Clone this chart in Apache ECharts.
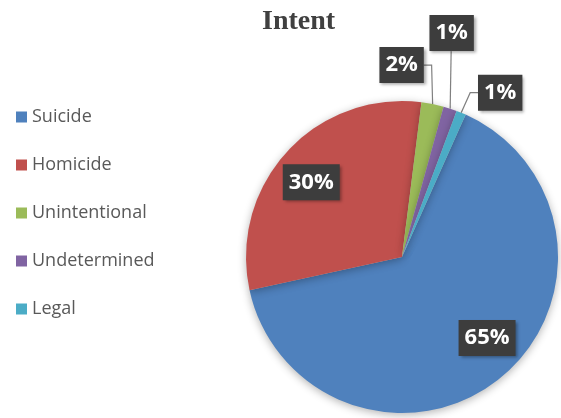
<!DOCTYPE html>
<html><head><meta charset="utf-8">
<script src="https://cdn.jsdelivr.net/npm/echarts@6/dist/echarts.min.js"></script>
<style>html,body{margin:0;padding:0;background:#fff}#c{width:561px;height:418px}</style>
</head><body><div id="c"></div>
<script>
const titleText = 'Intent';
const categories = ['Suicide', 'Homicide', 'Unintentional', 'Undetermined', 'Legal'];
const values = [64.9, 30.4, 2.3, 1.4, 1.0];
const colors = ['#4F81BD', '#C0504D', '#9BBB59', '#8064A2', '#4BACC6'];
const insideLabels = [true, true, false, false, false];

const chart = echarts.init(document.getElementById('c'), null, {renderer: 'canvas'});

const HW = 22, HH = 18; // half size of small label boxes
function layoutLabel(p) {
  const i = p.dataIndex;
  if (i === 0) return {dx: 34, dy: 18};
  if (i === 1) return {dx: -31, dy: -20};
  const pts = p.labelLinePoints;
  if (!pts) return {};
  const p0 = pts[0];
  let lx, ly, line;
  if (i === 2) {
    lx = p0[0] - 31; ly = p0[1] - 39;
    line = [p0, [p0[0] - 1, ly], [lx + HW, ly]];
  } else if (i === 3) {
    lx = p0[0] + 1.5; ly = p0[1] - 75.5;
    line = [p0, [p0[0] + 1, ly + HH], [p0[0] + 1, ly + HH]];
  } else {
    lx = p0[0] + 39; ly = p0[1] - 20;
    line = [p0, [p0[0] + 9, ly], [lx - HW, ly]];
  }
  return {x: lx, y: ly, align: 'center', verticalAlign: 'middle', labelLinePoints: line};
}

const data = categories.map((n, i) => ({
  name: n,
  value: values[i],
  itemStyle: {color: colors[i]},
  label: {position: insideLabels[i] ? 'inside' : 'outside'},
  labelLine: {show: !insideLabels[i]}
}));

chart.setOption({
  animation: false,
  title: {
    text: titleText,
    left: 257, top: 3,
    textStyle: {fontFamily: 'Liberation Serif', fontWeight: 'bold', fontSize: 28, color: '#404040'}
  },
  legend: {
    orient: 'vertical',
    left: 11, top: 102,
    icon: 'rect',
    itemWidth: 11, itemHeight: 11,
    itemGap: 28,
    data: categories,
    textStyle: {fontFamily: 'Open Sans', fontSize: 18, color: '#595959', lineHeight: 20}
  },
  series: [{
    type: 'pie',
    center: [402, 257],
    radius: 156,
    startAngle: 65.9,
    clockwise: true,
    avoidLabelOverlap: false,
    minShowLabelAngle: 0,
    silent: true,
    itemStyle: {shadowBlur: 8, shadowColor: 'rgba(0,0,0,0.3)', shadowOffsetY: 2},
    label: {
      formatter: p => Math.round(p.percent) + '%',
      color: '#fff',
      fontFamily: 'Open Sans',
      fontWeight: 'bold',
      fontSize: 22,
      lineHeight: 23,
      backgroundColor: '#3d3d3d',
      padding: [7, 6, 6, 6],
      shadowBlur: 3,
      shadowOffsetX: 2,
      shadowOffsetY: 2,
      shadowColor: 'rgba(0,0,0,0.35)'
    },
    labelLine: {show: true, length: 10, length2: 10, lineStyle: {color: '#808080', width: 1.2}},
    labelLayout: layoutLabel,
    data: data
  }]
});
</script>
</body></html>
